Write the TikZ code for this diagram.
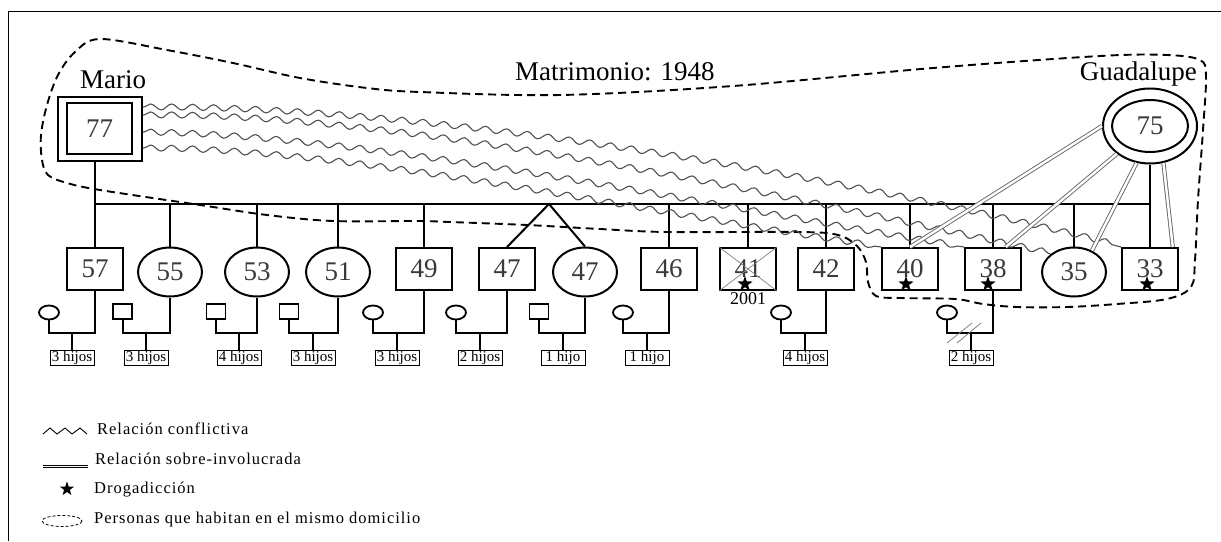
\documentclass[tikz,border=0pt]{standalone}
\usepackage{fontspec}
\setmainfont{Liberation Serif}
\newfontfamily\legfont[LetterSpace=6]{Liberation Serif}
\usetikzlibrary{shapes.geometric,decorations.pathmorphing,calc}
\definecolor{numgray}{HTML}{3A3A3A}
\definecolor{wavegray}{HTML}{505050}
\definecolor{dblgray}{HTML}{666666}
\begin{document}
\begin{tikzpicture}[x=1pt,y=-1pt,
  ln/.style={line width=2pt},
  sq/.style={draw, line width=2pt, fill=white, minimum width=56pt, minimum height=42pt, inner sep=0pt, font=\fontsize{27}{27}\selectfont, text=numgray},
  ci/.style={draw, ellipse, line width=2pt, fill=white, minimum width=64pt, minimum height=49pt, inner sep=0pt, font=\fontsize{27}{27}\selectfont, text=numgray},
  ssq/.style={draw, line width=1.8pt, fill=white, minimum width=19pt, minimum height=15pt, inner sep=0pt},
  sci/.style={draw, ellipse, line width=1.8pt, fill=white, minimum width=20pt, minimum height=14pt, inner sep=0pt},
  hij/.style={draw, line width=0.9pt, fill=white, font=\fontsize{15}{15}\selectfont, inner xsep=1pt, inner ysep=0pt, minimum height=15pt, minimum width=44pt},
  wave/.style={decorate, decoration={snake, amplitude=3pt, segment length=21pt, pre length=1pt, post length=1pt}, draw=wavegray, line width=1.1pt},
  dbl/.style={draw=dblgray, double=white, double distance=2.4pt, line width=0.9pt},
  house/.style={dash pattern=on 8pt off 5pt, line width=1.9pt},
  drug/.style={star, star points=5, star point ratio=2.5, fill=black, inner sep=0pt, minimum size=16pt},
  lbl/.style={font=\fontsize{27}{27}\selectfont, inner sep=0pt},
  leg/.style={font=\fontsize{16.5}{16.5}\selectfont\legfont, anchor=base west, inner sep=0pt}
]
\useasboundingbox (0,0) rectangle (1221,541);
\draw[line width=1pt] (8,541) -- (8,11) -- (1221,11);

% household boundary
\draw[house] plot[smooth cycle, tension=0.55] coordinates {
 (100,39) (167,50) (233,63) (300,78) (367,88) (420,92) (560,95) (733,86) (933,68) (1100,56) (1167,55)
 (1200,60) (1206,76) (1203,130) (1198,200) (1195,260) (1191,287) (1167,299) (1117,304)
 (1067,307) (1017,307) (983,304) (955,299) (900,298) (876,296) (868,282) (866,262)
 (857,246) (838,235) (800,232) (667,232) (600,229) (527,225) (450,222) (417,221)
 (333,221) (267,215) (200,205) (100,190) (67,183) (48,175) (42,160) (41,135) (47,105)
 (58,75) (75,52)};

% parents
\node[draw, line width=2pt, fill=white, minimum width=84pt, minimum height=64pt, inner sep=0pt] (mario) at (100,129) {};
\node[draw, line width=2pt, minimum width=65pt, minimum height=51pt, inner sep=0pt, font=\fontsize{27}{27}\selectfont, text=numgray] (marioin) at (99.5,128.5) {77};
\node[lbl, anchor=base west] (marioname) at (80,88) {Mario};
\node[draw, ellipse, line width=2pt, fill=white, minimum width=94pt, minimum height=75pt, inner sep=0pt] (gua) at (1150,126) {};
\node[draw, ellipse, line width=2pt, minimum width=76pt, minimum height=52pt, inner sep=0pt, font=\fontsize{27}{27}\selectfont, text=numgray] (guain) at (1150,126) {75};
\node[lbl, anchor=base east] (guaname) at (1197,80) {Guadalupe};
\node[lbl, anchor=base west] (matri) at (515,80) {Matrimonio: 1948};

% children
\node[sq] (c57) at (95,269) {57};
\node[ci] (c55) at (170,272) {55};
\node[ci] (c53) at (257,272) {53};
\node[ci] (c51) at (338,272) {51};
\node[sq] (c49) at (424,269) {49};
\node[sq] (c47a) at (507,269) {47};
\node[ci] (c47b) at (585,272) {47};
\node[sq] (c46) at (669,269) {46};
\node[sq] (c41) at (748,269) {41};
\node[sq] (c42) at (826,269) {42};
\node[sq] (c40) at (910,269) {40};
\node[sq] (c38) at (993,269) {38};
\node[ci] (c35) at (1074,272) {35};
\node[sq] (c33) at (1150,269) {33};

\draw[gray, line width=0.7pt] (c41.north west) -- (c41.south east) (c41.north east) -- (c41.south west);
\node[drug] (d41) at (745,284) {};
\node[font=\fontsize{18}{18}\selectfont, anchor=base, inner sep=0pt] (y41) at (748,304) {2001};
\node[drug] (d40) at (906,284) {};
\node[drug] (d38) at (988,284) {};
\node[drug] (d33) at (1147,284) {};

% sibship
\coordinate (tw) at (549,204);
\coordinate (m) at (0,333);
\draw[ln] (c57.north |- mario.south) -- (c57.north);
\draw[ln] (c57.north |- tw) -- (c33.north |- tw);
\draw[ln] (gua.south -| c33.north) -- (c33.north);
\foreach \n in {c55,c53,c51,c49,c46,c41,c42,c40,c38,c35}
  \draw[ln] (\n.north |- tw) -- (\n.north);
\draw[ln] (tw) -- (c47a.north);
\draw[ln] (tw) -- (c47b.north);

% spouses
\node[sci] (s57) at (49,312.5) {};
\node[ssq] (s55) at (122.5,311.5) {};
\node[ssq] (s53) at (216,311.5) {};
\node[ssq] (s51) at (289,311.5) {};
\node[sci] (s49) at (373,312.5) {};
\node[sci] (s47a) at (456,312.5) {};
\node[ssq] (s47b) at (539,311.5) {};
\node[sci] (s46) at (623,312.5) {};
\node[sci] (s42) at (781,312.5) {};
\node[sci] (s38) at (947,312.5) {};

% grandchildren
\node[hij] (h57) at (72,357.5) {3 hijos};
\node[hij] (h55) at (146,357.5) {3 hijos};
\node[hij] (h53) at (239,357.5) {4 hijos};
\node[hij] (h51) at (313,357.5) {3 hijos};
\node[hij] (h49) at (397,357.5) {3 hijos};
\node[hij] (h47a) at (480,357.5) {2 hijos};
\node[hij] (h47b) at (563,357.5) {1 hijo};
\node[hij] (h46) at (647,357.5) {1 hijo};
\node[hij] (h42) at (805,357.5) {4 hijos};
\node[hij] (h38) at (971,357.5) {2 hijos};

\foreach \c/\s/\h in {c57/s57/h57, c55/s55/h55, c53/s53/h53, c51/s51/h51, c49/s49/h49, c47a/s47a/h47a, c47b/s47b/h47b, c46/s46/h46, c42/s42/h42, c38/s38/h38} {
  \draw[ln] (\c.south) -- (\c.south |- m) -| (\s.south);
  \draw[ln] (\h.north |- m) -- (\h.north);
}
\draw[gray, line width=0.8pt] (947,343) -- (972,323) (957,343) -- (981,323);

% conflict relations
\draw[wave] ([yshift=22pt]mario.east) .. controls (450,105) and (900,190) .. (c33.north west);
\draw[wave] ([yshift=14pt]mario.east) .. controls (400,112) and (800,200) .. (c35.north west);
\draw[wave] ([yshift=-3pt]mario.east) .. controls (380,135) and (750,215) .. (c38.north west);
\draw[wave] ([yshift=-19pt]mario.east) .. controls (350,148) and (650,215) .. (c40.north west);

% over-involved relations
\draw[dbl] (gua.west) -- (c40.north);
\draw[dbl] (gua.220) -- (c38.60);
\draw[dbl] (gua.250) -- (c35.50);
\draw[dbl] (gua.290) -- (c33.44);

% legend
\draw[line width=0.9pt] (43,434) -- (50,428) -- (57,434) -- (65,428) -- (72,434) -- (80,428) -- (87,434);
\node[leg] (l1) at (97,434) {Relación conflictiva};
\draw[draw=black, double=white, double distance=1.8pt, line width=0.7pt] (43,466.5) -- (88,466.5);
\node[leg] (l2) at (95,464) {Relación sobre-involucrada};
\node[drug, minimum size=15pt] (ls) at (67,489) {};
\node[leg] (l3) at (94,493) {Drogadicción};
\draw[dash pattern=on 3pt off 2pt, line width=0.8pt] (62,521) ellipse [x radius=20, y radius=5.5];
\node[leg] (l4) at (94,523) {Personas que habitan en el mismo domicilio};
\end{tikzpicture}
\end{document}
